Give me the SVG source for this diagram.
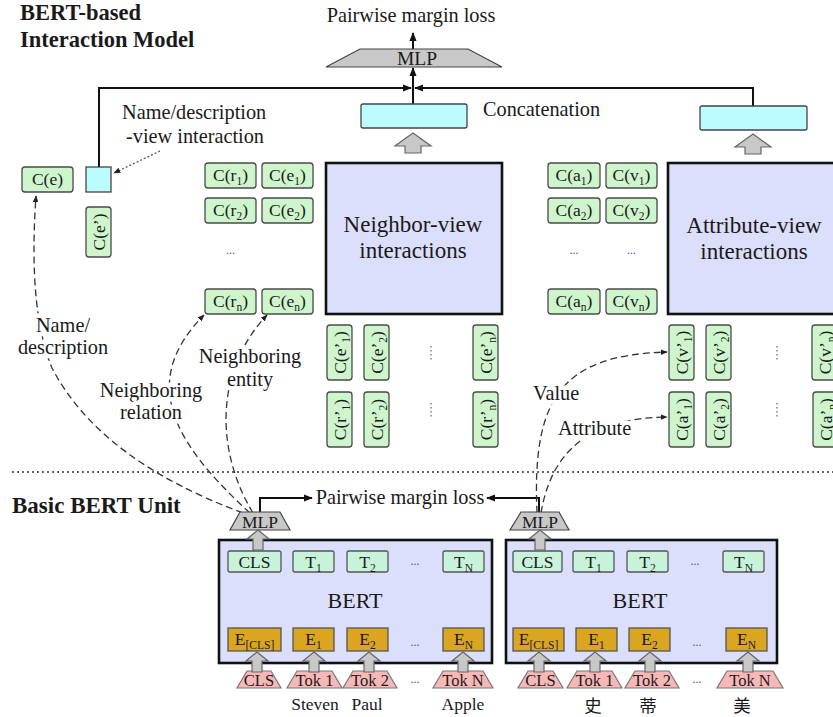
<svg xmlns="http://www.w3.org/2000/svg" width="833" height="717" viewBox="0 0 833 717">
  <style>
    .t { font-family: "Liberation Serif", "Times New Roman", serif; fill: #1a1a1a; }
    .cjk { font-family: "Liberation Serif", "Noto Sans CJK SC", serif; fill: #1a1a1a; }
    .f20 { font-size: 20.3px; }
    .f17 { font-size: 17.5px; }
    .f16 { font-size: 16.5px; }
    .fv { font-size: 17.5px; }
    .fbig { font-size: 23px; }
    .ttl { font-size: 22.5px; font-weight: bold; }
    .mid { text-anchor: middle; }
    .sb { font-size: 11.5px; }
    .halo { paint-order: stroke; stroke: #fff; stroke-width: 9px; stroke-linejoin: round; }
    .gbox { fill: #cff5cd; stroke: #4a4a4a; stroke-width: 1.3; }
    .tbox { fill: #c9f2da; stroke: #555; stroke-width: 1.3; }
    .ebox { fill: #daa520; stroke: #555; stroke-width: 1.3; }
    .cyan { fill: #bdfcfe; stroke: #444; stroke-width: 1.3; }
    .view { fill: #dcdffb; stroke: #111; stroke-width: 2.6; }
    .bert { fill: #dcdffb; stroke: #111; stroke-width: 2.6; }
    .mlp { fill: #c8c8c8; stroke: #444; stroke-width: 1.2; }
    .tok { fill: #f9b8b8; stroke: #777; stroke-width: 1.2; }
    .garr { fill: #c8c8c8; stroke: #666; stroke-width: 1.2; }
    .solid { fill: none; stroke: #111; stroke-width: 2; }
    .dash { fill: none; stroke: #333; stroke-width: 1.3; stroke-dasharray: 7 4; }
    .dot { fill: none; stroke: #555; stroke-width: 1.3; stroke-dasharray: 2 2; }
    .ell { font-family: "Liberation Serif", serif; font-size: 12px; fill: #5a4a8a; text-anchor: middle; }
    .vdots { stroke: #6a7a9a; stroke-width: 1.4; stroke-dasharray: 1.5 2.5; }
  </style>
  <defs>
    <marker id="ah" viewBox="0 0 10 10" refX="9" refY="5" markerWidth="9" markerHeight="9" markerUnits="userSpaceOnUse" orient="auto">
      <path d="M0,1 L10,5 L0,9 Z" fill="#111"/>
    </marker>
    <marker id="ahs" viewBox="0 0 10 10" refX="9" refY="5" markerWidth="7" markerHeight="7" markerUnits="userSpaceOnUse" orient="auto">
      <path d="M0,1 L10,5 L0,9 Z" fill="#222"/>
    </marker>
    <!-- block arrows, anchored at the tip -->
    <path id="bigUp" class="garr" d="M0,0 L18,13 L8,13 L8,20 L-8,20 L-8,13 L-18,13 Z"/>
    <path id="smallUp" class="garr" d="M0,0 L11,9 L5,9 L5,20 L-5,20 L-5,9 L-11,9 Z"/>
  </defs>

  <rect width="833" height="717" fill="#fff"/>

  <!-- section titles -->
  <g id="titles">
    <text class="t ttl" x="20" y="20">BERT-based</text>
    <text class="t ttl" x="20" y="47">Interaction Model</text>
    <text class="t ttl" x="12" y="513" style="font-size:23px">Basic BERT Unit</text>
  </g>

  <!-- separator between the two parts -->
  <line x1="12" y1="472" x2="833" y2="472" stroke="#333" stroke-width="1.6" stroke-dasharray="2 3"/>

  <!-- connectors -->
  <g id="connectors">
    <line class="solid" x1="413" y1="49" x2="413" y2="33" marker-end="url(#ah)"/>
    <line class="solid" x1="413" y1="104" x2="413" y2="68" marker-end="url(#ah)"/>
    <polyline class="solid" points="99,167 99,88 411,88" marker-end="url(#ah)"/>
    <polyline class="solid" points="753,106 753,88 415,88" marker-end="url(#ah)"/>
    <polyline class="solid" points="260,512 260,498 312,498" marker-end="url(#ah)"/>
    <polyline class="solid" points="539,512 539,498 487,498" marker-end="url(#ah)"/>
    <line class="dot" x1="160" y1="151" x2="114" y2="173" marker-end="url(#ahs)"/>
    <path class="dash" d="M243,513 Q100,460 52,368 Q28,310 36,196" marker-end="url(#ahs)"/>
    <path class="dash" d="M250,513 C170,440 140,380 204,315" marker-end="url(#ahs)"/>
    <path class="dash" d="M253,513 C215,450 215,370 267,315" marker-end="url(#ahs)"/>
    <path class="dash" d="M537,513 C532,400 560,355 667,352" marker-end="url(#ahs)"/>
    <path class="dash" d="M541,513 C550,460 580,418 667,417" marker-end="url(#ahs)"/>
    <use href="#bigUp" x="413" y="133"/>
    <use href="#bigUp" x="753" y="134"/>
  </g>

  <!-- connector labels -->
  <g id="labels">
    <text class="t f20 mid" x="411" y="22">Pairwise margin loss</text>
    <text class="t f20" x="483" y="116">Concatenation</text>
    <text class="t f20" x="122" y="119">Name/description</text>
    <text class="t f20" x="126" y="143">-view interaction</text>
    <text class="t f20 mid halo" x="63" y="332">Name/</text>
    <text class="t f20 mid halo" x="63" y="354">description</text>
    <text class="t f20 mid halo" x="151" y="397">Neighboring</text>
    <text class="t f20 mid halo" x="151" y="419">relation</text>
    <text class="t f20 mid halo" x="250" y="363">Neighboring</text>
    <text class="t f20 mid halo" x="250" y="386">entity</text>
    <text class="t f20 halo" x="533" y="400">Value</text>
    <text class="t f20 halo" x="558" y="435">Attribute</text>
    <text class="t f20 mid" x="400" y="504">Pairwise margin loss</text>
  </g>

  <!-- top MLP and concatenation -->
  <g id="mlp-top">
    <polygon class="mlp" points="360,49 468,49 502,67 326,67"/>
    <text class="t mid" style="font-size:19.5px" x="417" y="65">MLP</text>
  </g>
  <g id="concat-neighbor">
    <rect class="cyan" x="361" y="104" width="106" height="24" rx="2"/>
  </g>
  <g id="concat-attribute">
    <rect class="cyan" x="700" y="106" width="107" height="24" rx="2"/>
  </g>

  <!-- name/description view -->
  <g id="c-e">
    <rect class="gbox" x="22" y="167" width="51" height="25" rx="3"/>
    <text class="t f17 mid" x="47.5" y="185">C(e)</text>
  </g>
  <g id="name-interaction">
    <rect class="cyan" x="86" y="167" width="25" height="25"/>
  </g>
  <g id="c-e-prime">
    <rect class="gbox" x="86" y="207" width="25" height="50" rx="3"/>
    <text class="t fv mid" x="98.5" y="238" transform="rotate(-90 98.5 232)">C(e’)</text>
  </g>

  <!-- neighbor view -->
  <g id="neighbor-grid">
    <rect class="gbox" x="205" y="163" width="51" height="25" rx="3"/>
    <text class="t f17 mid" x="230.5" y="181">C(r<tspan class="sb" dy="4">1</tspan><tspan dy="-4">)</tspan></text>
    <rect class="gbox" x="262" y="163" width="51" height="25" rx="3"/>
    <text class="t f17 mid" x="287.5" y="181">C(e<tspan class="sb" dy="4">1</tspan><tspan dy="-4">)</tspan></text>
    <rect class="gbox" x="205" y="198" width="51" height="25" rx="3"/>
    <text class="t f17 mid" x="230.5" y="216">C(r<tspan class="sb" dy="4">2</tspan><tspan dy="-4">)</tspan></text>
    <rect class="gbox" x="262" y="198" width="51" height="25" rx="3"/>
    <text class="t f17 mid" x="287.5" y="216">C(e<tspan class="sb" dy="4">2</tspan><tspan dy="-4">)</tspan></text>
    <text class="ell" x="230.5" y="254">...</text>
    <rect class="gbox" x="205" y="289" width="51" height="25" rx="3"/>
    <text class="t f17 mid" x="230.5" y="307">C(r<tspan class="sb" dy="4">n</tspan><tspan dy="-4">)</tspan></text>
    <rect class="gbox" x="262" y="289" width="51" height="25" rx="3"/>
    <text class="t f17 mid" x="287.5" y="307">C(e<tspan class="sb" dy="4">n</tspan><tspan dy="-4">)</tspan></text>
  </g>
  <g id="neighbor-view">
    <rect class="view" x="326" y="163" width="176" height="151"/>
    <text class="t fbig mid" x="413" y="232">Neighbor-view</text>
    <text class="t fbig mid" x="413" y="258">interactions</text>
  </g>
  <g id="neighbor-prime">
    <rect class="gbox" x="327" y="325" width="25" height="55" rx="3"/>
    <text class="t fv mid" x="339.5" y="358.5" transform="rotate(-90 339.5 352.5)">C(e’<tspan class="sb" dy="4">1</tspan><tspan dy="-4">)</tspan></text>
    <rect class="gbox" x="364" y="325" width="25" height="55" rx="3"/>
    <text class="t fv mid" x="376.5" y="358.5" transform="rotate(-90 376.5 352.5)">C(e’<tspan class="sb" dy="4">2</tspan><tspan dy="-4">)</tspan></text>
    <line class="vdots" x1="431" y1="346" x2="431" y2="360"/>
    <rect class="gbox" x="473" y="325" width="25" height="55" rx="3"/>
    <text class="t fv mid" x="485.5" y="358.5" transform="rotate(-90 485.5 352.5)">C(e’<tspan class="sb" dy="4">n</tspan><tspan dy="-4">)</tspan></text>
    <rect class="gbox" x="327" y="392" width="25" height="55" rx="3"/>
    <text class="t fv mid" x="339.5" y="425.5" transform="rotate(-90 339.5 419.5)">C(r’<tspan class="sb" dy="4">1</tspan><tspan dy="-4">)</tspan></text>
    <rect class="gbox" x="364" y="392" width="25" height="55" rx="3"/>
    <text class="t fv mid" x="376.5" y="425.5" transform="rotate(-90 376.5 419.5)">C(r’<tspan class="sb" dy="4">2</tspan><tspan dy="-4">)</tspan></text>
    <line class="vdots" x1="431" y1="403" x2="431" y2="417"/>
    <rect class="gbox" x="473" y="392" width="25" height="55" rx="3"/>
    <text class="t fv mid" x="485.5" y="425.5" transform="rotate(-90 485.5 419.5)">C(r’<tspan class="sb" dy="4">n</tspan><tspan dy="-4">)</tspan></text>
  </g>

  <!-- attribute view -->
  <g id="attribute-grid">
    <rect class="gbox" x="548" y="163" width="52" height="25" rx="3"/>
    <text class="t f17 mid" x="574" y="181">C(a<tspan class="sb" dy="4">1</tspan><tspan dy="-4">)</tspan></text>
    <rect class="gbox" x="606" y="163" width="51" height="25" rx="3"/>
    <text class="t f17 mid" x="631.5" y="181">C(v<tspan class="sb" dy="4">1</tspan><tspan dy="-4">)</tspan></text>
    <rect class="gbox" x="548" y="198" width="52" height="25" rx="3"/>
    <text class="t f17 mid" x="574" y="216">C(a<tspan class="sb" dy="4">2</tspan><tspan dy="-4">)</tspan></text>
    <rect class="gbox" x="606" y="198" width="51" height="25" rx="3"/>
    <text class="t f17 mid" x="631.5" y="216">C(v<tspan class="sb" dy="4">2</tspan><tspan dy="-4">)</tspan></text>
    <text class="ell" x="574" y="254">...</text>
    <text class="ell" x="631.5" y="254">...</text>
    <rect class="gbox" x="548" y="289" width="52" height="25" rx="3"/>
    <text class="t f17 mid" x="574" y="307">C(a<tspan class="sb" dy="4">n</tspan><tspan dy="-4">)</tspan></text>
    <rect class="gbox" x="606" y="289" width="51" height="25" rx="3"/>
    <text class="t f17 mid" x="631.5" y="307">C(v<tspan class="sb" dy="4">n</tspan><tspan dy="-4">)</tspan></text>
  </g>
  <g id="attribute-view">
    <rect class="view" x="668" y="163" width="180" height="151"/>
    <text class="t fbig mid" x="754" y="233">Attribute-view</text>
    <text class="t fbig mid" x="754" y="259">interactions</text>
  </g>
  <g id="attribute-prime">
    <rect class="gbox" x="669" y="325" width="25" height="55" rx="3"/>
    <text class="t fv mid" x="681.5" y="358.5" transform="rotate(-90 681.5 352.5)">C(v’<tspan class="sb" dy="4">1</tspan><tspan dy="-4">)</tspan></text>
    <rect class="gbox" x="706" y="325" width="25" height="55" rx="3"/>
    <text class="t fv mid" x="718.5" y="358.5" transform="rotate(-90 718.5 352.5)">C(v’<tspan class="sb" dy="4">2</tspan><tspan dy="-4">)</tspan></text>
    <line class="vdots" x1="777" y1="346" x2="777" y2="360"/>
    <rect class="gbox" x="812" y="325" width="25" height="55" rx="3"/>
    <text class="t fv mid" x="824.5" y="358.5" transform="rotate(-90 824.5 352.5)">C(v’<tspan class="sb" dy="4">n</tspan><tspan dy="-4">)</tspan></text>
    <rect class="gbox" x="669" y="392" width="25" height="55" rx="3"/>
    <text class="t fv mid" x="681.5" y="425.5" transform="rotate(-90 681.5 419.5)">C(a’<tspan class="sb" dy="4">1</tspan><tspan dy="-4">)</tspan></text>
    <rect class="gbox" x="706" y="392" width="25" height="55" rx="3"/>
    <text class="t fv mid" x="718.5" y="425.5" transform="rotate(-90 718.5 419.5)">C(a’<tspan class="sb" dy="4">2</tspan><tspan dy="-4">)</tspan></text>
    <line class="vdots" x1="777" y1="403" x2="777" y2="417"/>
    <rect class="gbox" x="813" y="392" width="25" height="55" rx="3"/>
    <text class="t fv mid" x="825.5" y="425.5" transform="rotate(-90 825.5 419.5)">C(a’<tspan class="sb" dy="4">n</tspan><tspan dy="-4">)</tspan></text>
  </g>

  <!-- basic BERT unit, English side -->
  <g id="bert-left">
    <polygon class="mlp" points="240,512 280,512 290,530 230,530"/>
    <text class="t f17 mid" x="260" y="528">MLP</text>
    <rect class="bert" x="219" y="540" width="273" height="123"/>
    <rect class="tbox" x="228" y="551" width="53" height="21" rx="2"/>
    <text class="t f17 mid" x="254.5" y="568">CLS</text>
    <rect class="tbox" x="293" y="551" width="41" height="21" rx="2"/>
    <text class="t f17 mid" x="313.5" y="568">T<tspan class="sb" dy="4">1</tspan></text>
    <rect class="tbox" x="347" y="551" width="41" height="21" rx="2"/>
    <text class="t f17 mid" x="367.5" y="568">T<tspan class="sb" dy="4">2</tspan></text>
    <text class="ell" x="415" y="565">...</text>
    <rect class="tbox" x="443" y="551" width="41" height="21" rx="2"/>
    <text class="t f17 mid" x="463.5" y="568">T<tspan class="sb" dy="4">N</tspan></text>
    <text class="t mid" style="font-size:22px" x="355" y="608">BERT</text>
    <rect class="ebox" x="228" y="628" width="53" height="23"/>
    <text class="t f17 mid" x="254.5" y="645">E<tspan class="sb" dy="4">[CLS]</tspan></text>
    <rect class="ebox" x="293" y="628" width="41" height="23"/>
    <text class="t f17 mid" x="313.5" y="645">E<tspan class="sb" dy="4">1</tspan></text>
    <rect class="ebox" x="347" y="628" width="41" height="23"/>
    <text class="t f17 mid" x="367.5" y="645">E<tspan class="sb" dy="4">2</tspan></text>
    <text class="ell" x="415" y="646">...</text>
    <rect class="ebox" x="443" y="628" width="41" height="23"/>
    <text class="t f17 mid" x="463.5" y="645">E<tspan class="sb" dy="4">N</tspan></text>
    <polygon class="tok" points="247,671 271,671 281,688 237,688"/>
    <text class="t f16 mid" x="259" y="686">CLS</text>
    <polygon class="tok" points="297,671 332,671 342,688 287,688"/>
    <text class="t f16 mid" x="314.5" y="686">Tok 1</text>
    <polygon class="tok" points="353,671 387,671 397,688 343,688"/>
    <text class="t f16 mid" x="370" y="686">Tok 2</text>
    <text class="ell" x="415" y="683">...</text>
    <polygon class="tok" points="443,671 483,671 493,688 433,688"/>
    <text class="t f16 mid" x="463" y="686">Tok N</text>
    <use href="#smallUp" x="258" y="530"/>
    <use href="#smallUp" x="257" y="652"/>
    <use href="#smallUp" x="314" y="652"/>
    <use href="#smallUp" x="369" y="652"/>
    <use href="#smallUp" x="463" y="652"/>
    <text class="t f17 mid" x="315" y="710">Steven</text>
    <text class="t f17 mid" x="367" y="710">Paul</text>
    <text class="t f17 mid" x="463" y="710">Apple</text>
  </g>

  <!-- basic BERT unit, Chinese side -->
  <g id="bert-right">
    <polygon class="mlp" points="521,512 559,512 569,530 510,530"/>
    <text class="t f17 mid" x="540" y="528">MLP</text>
    <rect class="bert" x="506" y="540" width="271" height="123"/>
    <rect class="tbox" x="513" y="551" width="49" height="21" rx="2"/>
    <text class="t f17 mid" x="537.5" y="568">CLS</text>
    <rect class="tbox" x="573" y="551" width="41" height="21" rx="2"/>
    <text class="t f17 mid" x="593.5" y="568">T<tspan class="sb" dy="4">1</tspan></text>
    <rect class="tbox" x="627" y="551" width="41" height="21" rx="2"/>
    <text class="t f17 mid" x="647.5" y="568">T<tspan class="sb" dy="4">2</tspan></text>
    <text class="ell" x="695" y="565">...</text>
    <rect class="tbox" x="723" y="551" width="41" height="21" rx="2"/>
    <text class="t f17 mid" x="743.5" y="568">T<tspan class="sb" dy="4">N</tspan></text>
    <text class="t mid" style="font-size:22px" x="640" y="608">BERT</text>
    <rect class="ebox" x="513" y="628" width="51" height="23"/>
    <text class="t f17 mid" x="538.5" y="645">E<tspan class="sb" dy="4">[CLS]</tspan></text>
    <rect class="ebox" x="576" y="628" width="41" height="23"/>
    <text class="t f17 mid" x="596.5" y="645">E<tspan class="sb" dy="4">1</tspan></text>
    <rect class="ebox" x="629" y="628" width="41" height="23"/>
    <text class="t f17 mid" x="649.5" y="645">E<tspan class="sb" dy="4">2</tspan></text>
    <text class="ell" x="697" y="646">...</text>
    <rect class="ebox" x="726" y="628" width="41" height="23"/>
    <text class="t f17 mid" x="746.5" y="645">E<tspan class="sb" dy="4">N</tspan></text>
    <polygon class="tok" points="528,671 553,671 563,688 518,688"/>
    <text class="t f16 mid" x="540.5" y="686">CLS</text>
    <polygon class="tok" points="577,671 612,671 622,688 567,688"/>
    <text class="t f16 mid" x="594.5" y="686">Tok 1</text>
    <polygon class="tok" points="635,671 669,671 679,688 625,688"/>
    <text class="t f16 mid" x="652" y="686">Tok 2</text>
    <text class="ell" x="697" y="683">...</text>
    <polygon class="tok" points="727,671 773,671 783,688 717,688"/>
    <text class="t f16 mid" x="750" y="686">Tok N</text>
    <use href="#smallUp" x="540" y="530"/>
    <use href="#smallUp" x="539" y="652"/>
    <use href="#smallUp" x="595" y="652"/>
    <use href="#smallUp" x="650" y="652"/>
    <use href="#smallUp" x="748" y="652"/>
    <text class="cjk f17 mid" x="593" y="712">史</text>
    <text class="cjk f17 mid" x="648" y="712">蒂</text>
    <text class="cjk f17 mid" x="742" y="712">美</text>
  </g>
</svg>
